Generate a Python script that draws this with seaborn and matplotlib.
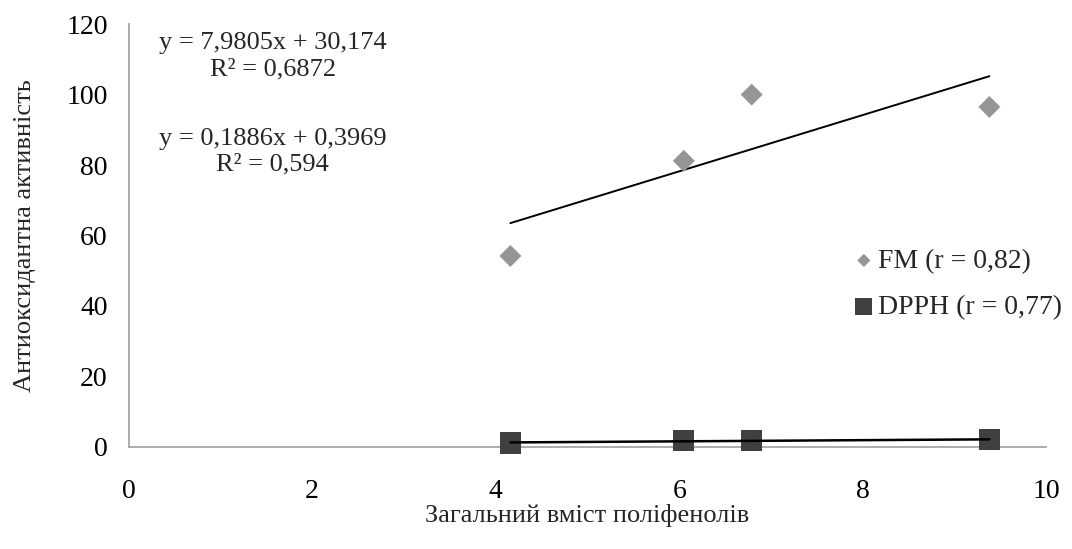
import numpy as np
import pandas as pd
import matplotlib
matplotlib.use("Agg")
import matplotlib.pyplot as plt
import seaborn as sns

# дані
polyphenols = [4.16, 6.05, 6.79, 9.38]
fm_values = [54.2, 81.2, 100.0, 96.5]
dpph_values = [1.1, 1.7, 1.9, 2.0]
fm_label = "FM (r = 0,82)"
dpph_label = "DPPH (r = 0,77)"
fm_eq = "y = 7,9805x + 30,174\nR² = 0,6872"
dpph_eq = "y = 0,1886x + 0,3969\nR² = 0,594"
x_ticks = [0, 2, 4, 6, 8, 10]
y_ticks = [0, 20, 40, 60, 80, 100, 120]

sns.set_style("white")
plt.rcParams["font.family"] = ["Liberation Serif", "DejaVu Serif"]

df = pd.DataFrame({"x": polyphenols, "fm": fm_values, "dpph": dpph_values})

fig = plt.figure(figsize=(10.72, 5.49), dpi=100)
ax = fig.add_axes([0.120, 0.186, 0.856, 0.770])

grey = "#a6a6a6"
fm_col = "#959595"
dpph_col = "#404040"

# лінії тренду
sns.regplot(data=df, x="x", y="fm", ax=ax, ci=None, scatter=False, truncate=True,
            line_kws=dict(color="black", lw=1.4, zorder=2))
sns.regplot(data=df, x="x", y="dpph", ax=ax, ci=None, scatter=False, truncate=True,
            line_kws=dict(color="black", lw=1.8, zorder=4, clip_on=False))

sns.scatterplot(data=df, x="x", y="fm", ax=ax, marker="D", s=125, color=fm_col,
                edgecolor="none", label=fm_label, zorder=3, clip_on=False)
sns.scatterplot(data=df, x="x", y="dpph", ax=ax, marker="s", s=230, color=dpph_col,
                edgecolor="none", label=dpph_label, zorder=3, clip_on=False)

ax.set_xlim(0, 10)
ax.set_ylim(0, 120)
ax.set_xticks(x_ticks)
ax.set_yticks(y_ticks)
ax.tick_params(axis="both", labelsize=20, colors=grey, labelcolor="black",
               length=6, width=1.2, direction="out")
ax.tick_params(axis="x", pad=17)
ax.tick_params(axis="y", pad=9)
for s in ["top", "right"]:
    ax.spines[s].set_visible(False)
for s in ["left", "bottom"]:
    ax.spines[s].set_color(grey)
    ax.spines[s].set_linewidth(1.3)

ax.set_xlabel("Загальний вміст поліфенолів", fontsize=19, labelpad=0)
ax.set_ylabel("Антиоксидантна активність", fontsize=19, labelpad=22)

ax.text(1.57, 110.9, fm_eq, ha="center", va="center", fontsize=19, linespacing=1.25)
ax.text(1.57, 83.8, dpph_eq, ha="center", va="center", fontsize=19, linespacing=1.25)

leg = ax.legend(loc="center left", bbox_to_anchor=(0.777, 0.385), frameon=False,
                fontsize=20, handlelength=0.8, handletextpad=0.1, labelspacing=0.75,
                borderaxespad=0)
leg.legend_handles[0].set_sizes([45])
leg.legend_handles[1].set_sizes([150])

fig.savefig("out.png", dpi=100)
